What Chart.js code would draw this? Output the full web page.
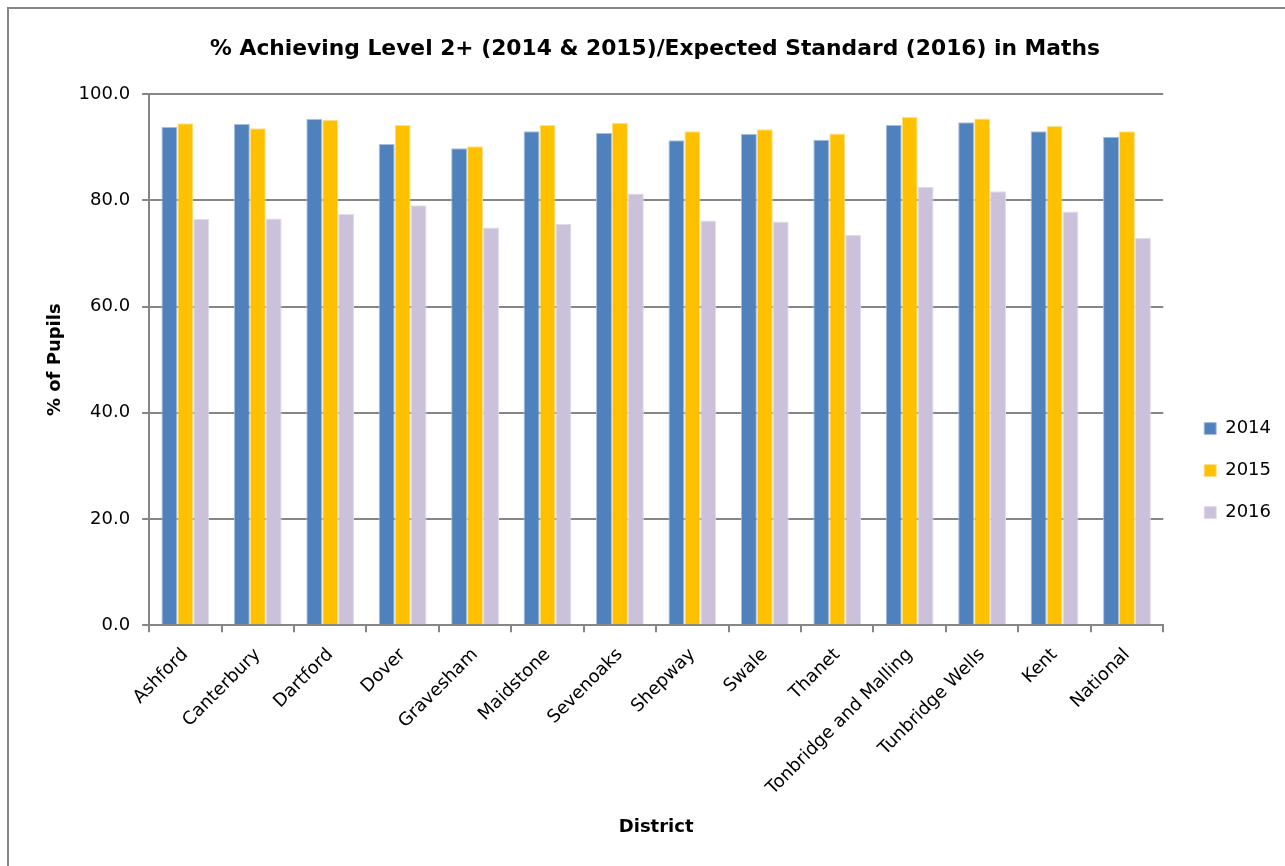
<!DOCTYPE html>
<html><head><meta charset="utf-8">
<script src="https://cdn.jsdelivr.net/npm/chart.js@4"></script>
<style>html,body{margin:0;padding:0;background:#fff;overflow:hidden}canvas{display:block}</style>
</head><body>
<canvas id="c" width="1285" height="866"></canvas>
<script>
const categories = ["Ashford","Canterbury","Dartford","Dover","Gravesham","Maidstone","Sevenoaks","Shepway","Swale","Thanet","Tonbridge and Malling","Tunbridge Wells","Kent","National"];
const values2014 = [93.8,94.4,95.3,90.6,89.8,93.0,92.7,91.3,92.5,91.4,94.2,94.7,93.0,92.0];
const values2015 = [94.5,93.6,95.2,94.2,90.2,94.2,94.6,93.0,93.4,92.6,95.7,95.4,94.0,93.0];
const values2016 = [76.5,76.6,77.5,79.1,74.9,75.6,81.3,76.2,76.0,73.5,82.5,81.7,77.9,72.9];
const seriesNames = ["2014","2015","2016"];
const yTicks = [0,20,40,60,80,100];

const FONT = "'DejaVu Sans', sans-serif";
const frame = {
  id:'frame',
  beforeDraw(chart){
    const ctx = chart.ctx;
    ctx.save();
    ctx.fillStyle='#fff';ctx.fillRect(0,0,chart.width,chart.height);
    ctx.strokeStyle='#868686';ctx.lineWidth=2;
    ctx.strokeRect(8,8,chart.width+20,chart.height+20);
    ctx.restore();
  }
};
new Chart(document.getElementById('c'),{
  type:'bar',
  data:{labels:categories,datasets:[
    {label:seriesNames[0],data:values2014,backgroundColor:'#4f81bd',borderColor:'#a7bfde',borderWidth:1},
    {label:seriesNames[1],data:values2015,backgroundColor:'#ffc000',borderColor:'#ffe08a',borderWidth:1},
    {label:seriesNames[2],data:values2016,backgroundColor:'#ccc1da',borderColor:'#e2dbea',borderWidth:1}
  ]},
  options:{
    responsive:false,animation:false,
    datasets:{bar:{categoryPercentage:0.66,barPercentage:1.0}},
    layout:{padding:{left:29,right:4,top:30,bottom:24}},
    plugins:{
      title:{display:true,text:'% Achieving Level 2+ (2014 & 2015)/Expected Standard (2016) in Maths',font:{family:FONT,size:21.8,weight:'bold'},color:'#000',padding:{top:6,bottom:32}},
      legend:{position:'right',
        title:{display:true,text:'',font:{size:1},padding:{top:68,bottom:0}},
        labels:{boxWidth:12,boxHeight:12,padding:24,font:{family:FONT,size:18},color:'#000'}},
      tooltip:{enabled:false}
    },
    scales:{
      x:{
        grid:{display:true,drawOnChartArea:false,drawTicks:true,tickLength:7,color:'#868686',lineWidth:2},
        border:{color:'#868686',width:2},
        ticks:{font:{family:FONT,size:18},color:'#000',minRotation:45,maxRotation:45,autoSkip:false,padding:12},
        title:{display:true,text:'District',font:{family:FONT,size:18,weight:'bold'},color:'#000',padding:{top:5}}
      },
      y:{
        min:0,max:100,
        afterBuildTicks(ax){ax.ticks=yTicks.map(v=>({value:v}));},
        grid:{color:'#868686',lineWidth:2,tickLength:7},
        border:{color:'#868686',width:2},
        ticks:{font:{family:FONT,size:18},color:'#000',padding:12,callback:v=>v.toFixed(1)},
        title:{display:true,text:'% of Pupils',font:{family:FONT,size:18,weight:'bold'},color:'#000',padding:{top:16,bottom:0}}
      },
      gap:{
        position:'right',display:true,
        grid:{display:false},border:{display:false},ticks:{display:false},
        afterFit(ax){ax.width=17;}
      }
    }
  },
  plugins:[frame]
});
</script>
</body></html>
